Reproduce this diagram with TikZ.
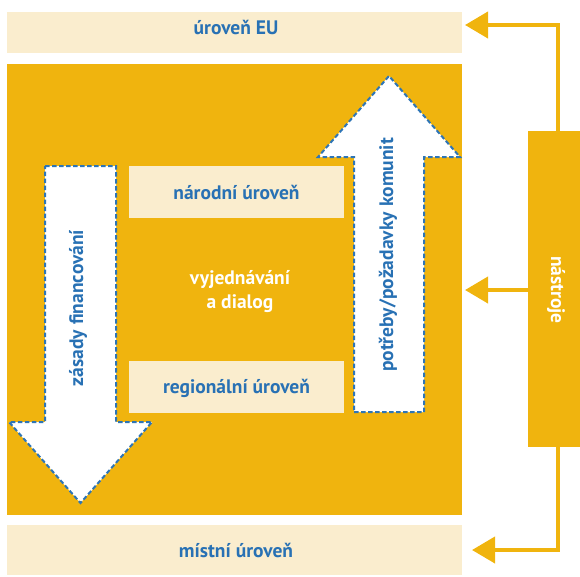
\documentclass[tikz,border=0pt]{standalone}
\usepackage{fontspec}
\setmainfont{PT Sans}
\usetikzlibrary{arrows.meta}
\definecolor{orng}{RGB}{240,180,14}
\definecolor{cream}{RGB}{250,237,206}
\definecolor{txtblue}{RGB}{40,113,180}
\definecolor{dashblue}{RGB}{46,117,182}
\tikzset{
  bar/.style={fill=cream, draw=none, anchor=north west, inner sep=0pt, outer sep=0pt},
  lbl/.style={text=txtblue, font=\bfseries\fontsize{19.5}{22}\selectfont, inner sep=0pt},
  wlbl/.style={text=white, font=\bfseries\fontsize{19.5}{24}\selectfont, inner sep=0pt, align=center},
  bigarrow/.style={fill=white, draw=dashblue, line width=2pt, dash pattern=on 4.5pt off 2.5pt},
  conn/.style={draw=orng, line width=4pt, -{Triangle[length=23pt,width=26pt]}},
}
\begin{document}
\begin{tikzpicture}[x=1pt,y=-1pt]
\useasboundingbox (0,0) rectangle (580,576);
% bars
\node[bar, minimum width=455pt, minimum height=41pt] (eu) at (7,12) {};
\node[bar, fill=orng, minimum width=455pt, minimum height=451pt] (sq) at (7,64) {};
\node[bar, minimum width=455pt, minimum height=50pt] (loc) at (7,525) {};
\node[bar, minimum width=215pt, minimum height=52pt] (nar) at (129,166) {};
\node[bar, minimum width=215pt, minimum height=52pt] (reg) at (129,361) {};
\node[bar, fill=orng, minimum width=52pt, minimum height=316pt] (nas) at (528,131) {};
% texts
\node[lbl, anchor=base] (teu) at (236,34) {úroveň EU};
\node[lbl, anchor=base] (tloc) at (236,557) {místní úroveň};
\node[lbl, anchor=base] (tnar) at (236.5,199) {národní úroveň};
\node[lbl, anchor=base] (treg) at (236.5,393) {regionální úroveň};
\node[wlbl] (tvd) at (240,292) {vyjednávání\\a dialog};
% big arrows
\path[bigarrow] (45,166) -- (116,166) -- (116,422) -- (152,422) -- (80.5,503) -- (9,422) -- (45,422) -- cycle;
\path[bigarrow] (354,412) -- (424,412) -- (424,157) -- (460,157) -- (389,76) -- (318,157) -- (354,157) -- cycle;
\node[lbl, rotate=90] (tzf) at (78,308) {zásady financování};
\node[lbl, rotate=90] (tpk) at (388,255) {potřeby/požadavky komunit};
\node[wlbl, rotate=-90] (tnas) at (556,290) {nástroje};
% connectors
\coordinate (vx) at (558,0);
\coordinate (euT) at (465,25);
\coordinate (sqT) at (465,290);
\coordinate (locT) at (472,550);
\draw[conn] (nas.north -| vx) |- (euT);
\draw[conn] (nas.west |- sqT) -- (sqT);
\draw[conn] (nas.south -| vx) |- (locT);
\end{tikzpicture}
\end{document}
